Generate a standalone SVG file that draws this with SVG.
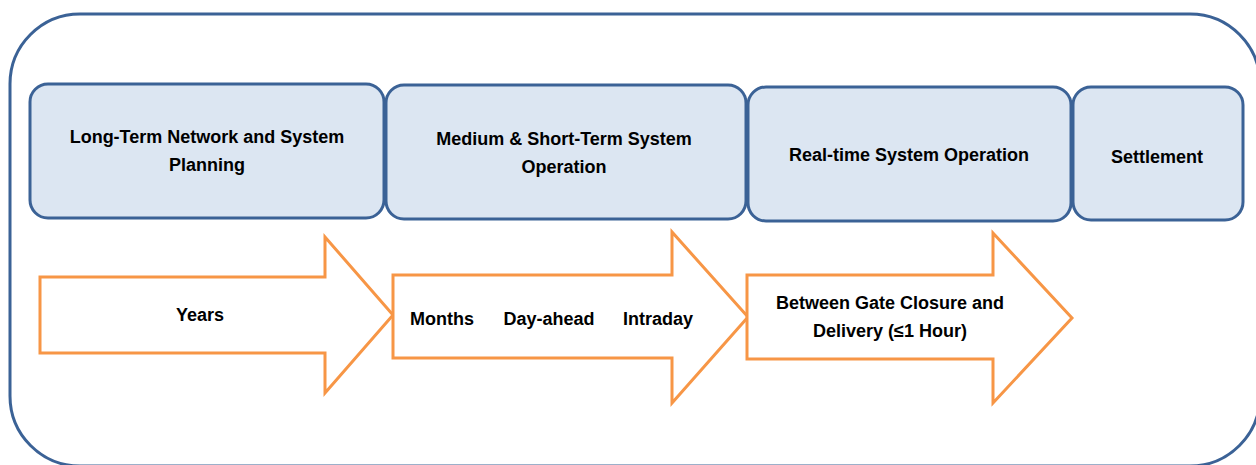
<svg xmlns="http://www.w3.org/2000/svg" width="1256" height="465" viewBox="0 0 1256 465">
<style>
.frame{fill:#ffffff;stroke:#3b6296;stroke-width:3}
.box{fill:#dce6f2;stroke:#3b6296;stroke-width:3}
.arr{fill:#ffffff;stroke:#f79646;stroke-width:3}
text{font-family:"Liberation Sans",Arial,sans-serif;font-weight:bold;font-size:18px;fill:#000;text-anchor:middle}
</style>
<rect width="1256" height="465" fill="#ffffff"/>
<rect class="frame" x="10" y="14" width="1250" height="452" rx="70" ry="70"/>
<g id="node-longterm">
<rect class="box" x="30" y="84" width="354" height="134" rx="18" ry="18"/>
<text x="207" y="143">Long-Term Network and System</text>
<text x="207" y="171">Planning</text>
</g>
<g id="node-medium">
<rect class="box" x="386" y="85" width="360" height="134" rx="18" ry="18"/>
<text x="564" y="145">Medium &amp; Short-Term System</text>
<text x="564" y="173">Operation</text>
</g>
<g id="node-realtime">
<rect class="box" x="748" y="87" width="323" height="134" rx="18" ry="18"/>
<text x="909" y="161">Real-time System Operation</text>
</g>
<g id="node-settlement">
<rect class="box" x="1073" y="87" width="170" height="133" rx="18" ry="18"/>
<text x="1157" y="163">Settlement</text>
</g>
<g id="connectors">
<g id="arrow-years">
<polygon class="arr" points="40,277 325,277 325,237 393,315 325,393 325,353 40,353"/>
<text x="200" y="321">Years</text>
</g>
<g id="arrow-medium">
<polygon class="arr" points="393,275 672,275 672,232 748,317 672,403 672,358 393,358"/>
<text x="442" y="325">Months</text>
<text x="549" y="325">Day-ahead</text>
<text x="658" y="325">Intraday</text>
</g>
<g id="arrow-realtime">
<polygon class="arr" points="747,275 993,275 993,233 1072,318 993,403 993,359 747,359"/>
<text x="890" y="309">Between Gate Closure and</text>
<text x="890" y="337">Delivery (≤1 Hour)</text>
</g>
</g>
</svg>
